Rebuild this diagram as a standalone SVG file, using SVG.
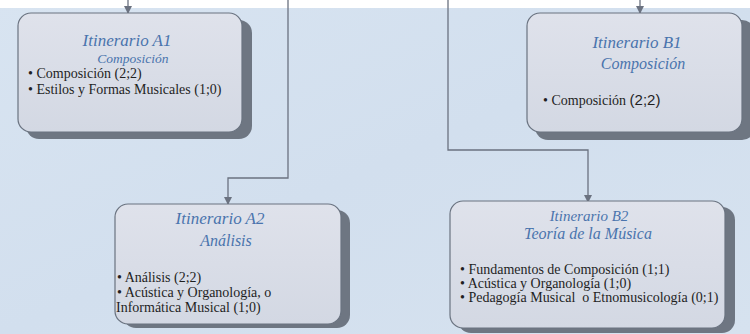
<svg xmlns="http://www.w3.org/2000/svg" width="750" height="334" viewBox="0 0 750 334">
<defs>
<linearGradient id="bg" x1="0" y1="0" x2="1" y2="1">
<stop offset="0" stop-color="#d8e4f1"/>
<stop offset="0.5" stop-color="#d2dfee"/>
<stop offset="1" stop-color="#d6e2ef"/>
</linearGradient>
<linearGradient id="box" x1="0" y1="0" x2="0" y2="1">
<stop offset="0" stop-color="#dfe2eb"/>
<stop offset="1" stop-color="#d3d8e3"/>
</linearGradient>
<marker id="ah" markerWidth="8" markerHeight="8" refX="7" refY="4" orient="auto" markerUnits="userSpaceOnUse">
<path d="M0,0 L8,4 L0,8 z" fill="#6b7280"/>
</marker>
<style>
.shadow{fill:#6e7682}
.card{fill:url(#box);stroke:#6a7380;stroke-width:1.2}
.t{font-family:"Liberation Serif","DejaVu Serif",serif;font-style:italic;fill:#4a74ad;text-anchor:middle}
.b{font-family:"Liberation Serif","DejaVu Serif",serif;fill:#1f1f1f;font-size:14px}
.c{fill:none;stroke:#6b7280;stroke-width:1.3}
</style>
</defs>
<rect x="0" y="0" width="750" height="334" fill="url(#bg)"/>
<rect x="0" y="0" width="750" height="8" fill="#ffffff"/>

<g id="connectors">
<path class="c" d="M128,0 L128,13" marker-end="url(#ah)"/>
<path class="c" d="M640,0 L640,13" marker-end="url(#ah)"/>
<path class="c" d="M288,0 L288,178 L228,178 L228,204" marker-end="url(#ah)"/>
<path class="c" d="M448,0 L448,150 L588,150 L588,202" marker-end="url(#ah)"/>
</g>

<g id="A1">
<rect class="shadow" x="26" y="20" width="226" height="119" rx="13"/>
<rect class="card" x="18" y="13" width="224" height="119" rx="13"/>
<text class="t" x="127" y="46" font-size="17">Itinerario A1</text>
<text class="t" x="133" y="63" font-size="13.5">Composición</text>
<text class="b" x="28" y="78">• Composición (2;2)</text>
<text class="b" x="28" y="94">• Estilos y Formas Musicales (1;0)</text>
</g>

<g id="A2">
<rect class="shadow" x="123" y="210" width="227" height="118" rx="13"/>
<rect class="card" x="115" y="204" width="226" height="120" rx="13"/>
<text class="t" x="220" y="224" font-size="17">Itinerario A2</text>
<text class="t" x="226" y="246" font-size="16">Análisis</text>
<text class="b" x="117" y="282">• Análisis (2;2)</text>
<text class="b" x="117" y="297">• Acústica y Organología, o</text>
<text class="b" x="116" y="312">Informática Musical (1;0)</text>
</g>

<g id="B1">
<rect class="shadow" x="535" y="20" width="220" height="120" rx="13"/>
<rect class="card" x="527" y="13" width="215" height="119" rx="13"/>
<text class="t" x="637" y="48" font-size="17">Itinerario B1</text>
<text class="t" x="643" y="69" font-size="16">Composición</text>
<text class="b" x="543" y="105" font-size="15">• Composición <tspan font-family="Liberation Sans, Arial, sans-serif" font-size="15">(2;2)</tspan></text>
</g>

<g id="B2">
<rect class="shadow" x="458" y="207" width="277" height="126" rx="13"/>
<rect class="card" x="450" y="201" width="275" height="127" rx="13"/>
<text class="t" x="589" y="221" font-size="15">Itinerario B2</text>
<text class="t" x="588" y="239" font-size="16">Teoría de la Música</text>
<text class="b" x="460" y="274" font-size="13.7">• Fundamentos de Composición (1;1)</text>
<text class="b" x="460" y="288" font-size="13.7">• Acústica y Organología (1;0)</text>
<text class="b" x="460" y="302" font-size="13.7" xml:space="preserve">• Pedagogía Musical  o Etnomusicología (0;1)</text>
</g>
</svg>
